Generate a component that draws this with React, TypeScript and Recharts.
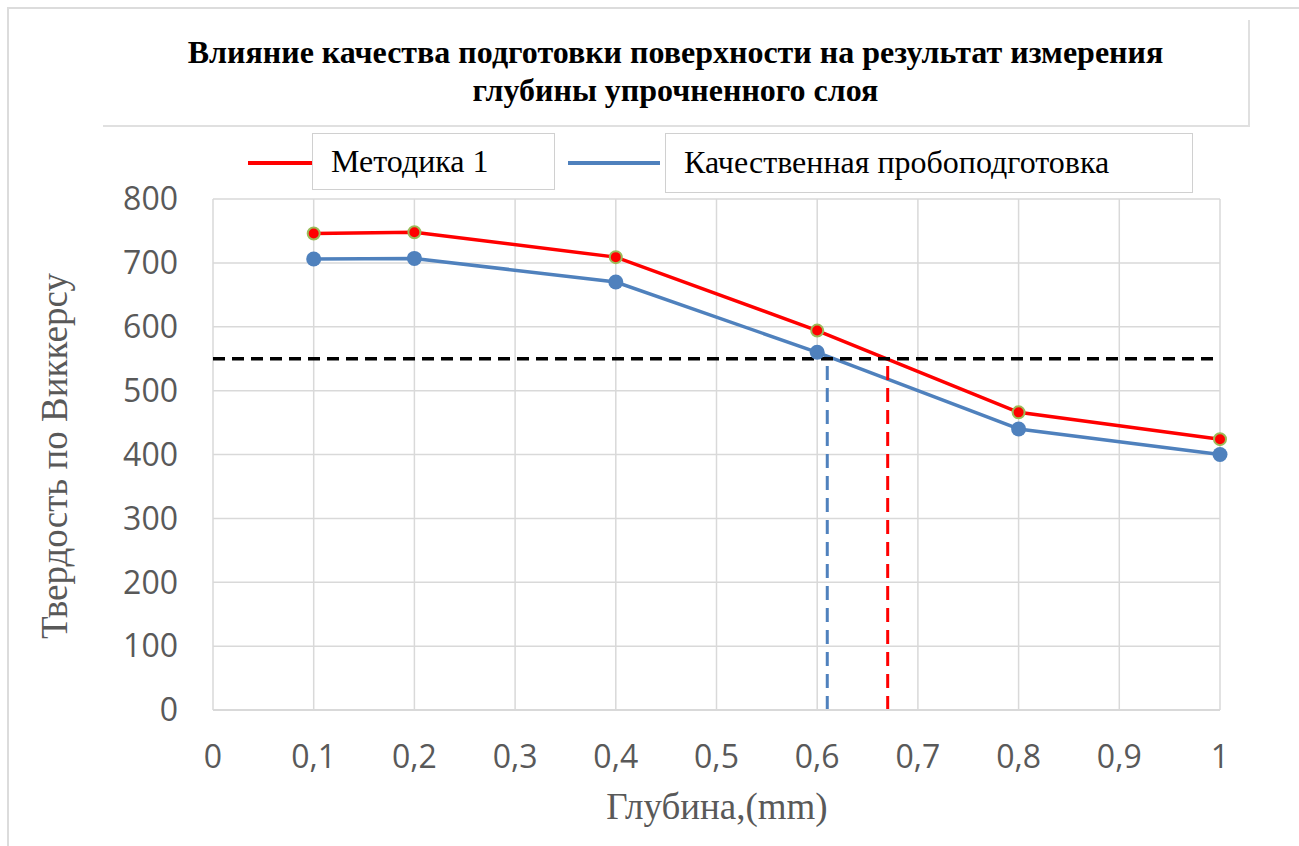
import React from 'react';
import {
  LineChart,
  Line,
  XAxis,
  YAxis,
  CartesianGrid,
  ReferenceLine,
} from 'recharts';

// Chart data
const depths = [0.1, 0.2, 0.4, 0.6, 0.8, 1];
const method1 = [746, 748, 709, 594, 466, 424];
const qualityPrep = [706, 707, 670, 560, 440, 400];

const xTicks = [0, 0.1, 0.2, 0.3, 0.4, 0.5, 0.6, 0.7, 0.8, 0.9, 1];
const yTicks = [0, 100, 200, 300, 400, 500, 600, 700, 800];

// threshold hardness and the depths where each curve crosses it
const threshold = 550;
const crossMethod1 = 0.67;
const crossQuality = 0.61;

const seriesNames = ['Методика 1', 'Качественная пробоподготовка'];
const title = [
  'Влияние качества подготовки поверхности на результат измерения',
  'глубины упрочненного слоя',
];
const xTitle = 'Глубина,(mm)';
const yTitle = 'Твердость по Виккерсу';

const RED = '#ff0000';
const BLUE = '#4f81bd';
const GRID = '#d9d9d9';
const TEXT = '#595959';
const SERIF = '"Liberation Serif", "Times New Roman", serif';
const SANS = '"Open Sans", sans-serif';

const data = depths.map((d, i) => ({
  depth: d,
  m1: method1[i],
  q: qualityPrep[i],
}));

const fmt = (v: number) => String(v).replace('.', ',');

export default function App() {
  return (
    <div
      style={{
        position: 'absolute',
        left: 0,
        top: 0,
        width: 1299,
        height: 846,
        background: '#fff',
        overflow: 'hidden',
      }}
    >
      {/* outer chart border */}
      <div
        style={{
          position: 'absolute',
          left: 7,
          top: 7,
          width: 1400,
          height: 1000,
          borderLeft: '2px solid #dcdcdc',
          borderTop: '2px solid #dcdcdc',
        }}
      />

      {/* title box */}
      <div
        style={{
          position: 'absolute',
          left: 103,
          top: 20,
          width: 1147,
          height: 107,
          borderRight: '2px solid #e0e0e0',
          borderBottom: '2px solid #e0e0e0',
          textAlign: 'center',
          fontFamily: SERIF,
          fontWeight: 'bold',
          fontSize: 32,
          lineHeight: '38px',
          paddingTop: 13,
          boxSizing: 'border-box',
          color: '#000',
          whiteSpace: 'nowrap',
        }}
      >
        {title.map((t) => (
          <div key={t}>{t}</div>
        ))}
      </div>

      {/* legend */}
      <div style={{ position: 'absolute', left: 248, top: 161, width: 64, height: 4, background: RED }} />
      <div
        style={{
          position: 'absolute',
          left: 312,
          top: 133,
          width: 243,
          height: 57,
          border: '1.5px solid #d0d0d0',
          boxSizing: 'border-box',
          fontFamily: SERIF,
          fontSize: 32,
          lineHeight: '54px',
          paddingLeft: 18,
          color: '#000',
          whiteSpace: 'nowrap',
        }}
      >
        {seriesNames[0]}
      </div>
      <div style={{ position: 'absolute', left: 568, top: 161, width: 92, height: 4, background: BLUE }} />
      <div
        style={{
          position: 'absolute',
          left: 665,
          top: 133,
          width: 528,
          height: 60,
          border: '1.5px solid #d0d0d0',
          boxSizing: 'border-box',
          fontFamily: SERIF,
          fontSize: 32,
          lineHeight: '56px',
          paddingLeft: 18,
          color: '#000',
          whiteSpace: 'nowrap',
        }}
      >
        {seriesNames[1]}
      </div>

      {/* axis titles */}
      <div
        style={{
          position: 'absolute',
          left: 54,
          top: 456,
          transform: 'translate(-50%, -50%) rotate(-90deg)',
          whiteSpace: 'nowrap',
          fontFamily: SERIF,
          fontSize: 37,
          color: TEXT,
        }}
      >
        {yTitle}
      </div>
      <div
        style={{
          position: 'absolute',
          left: 717,
          top: 806,
          transform: 'translate(-50%, -50%)',
          whiteSpace: 'nowrap',
          fontFamily: SERIF,
          fontSize: 37,
          color: TEXT,
        }}
      >
        {xTitle}
      </div>

      <div style={{ position: 'absolute', left: 0, top: 0 }}>
        <LineChart
          width={1299}
          height={846}
          data={data}
          margin={{ top: 199, right: 79, left: 0, bottom: 0 }}
        >
          <CartesianGrid stroke={GRID} strokeWidth={1.5} />
          <XAxis
            dataKey="depth"
            type="number"
            domain={[0, 1]}
            ticks={xTicks}
            tickFormatter={fmt}
            height={136}
            tickSize={0}
            tickMargin={35}
            axisLine={{ stroke: GRID, strokeWidth: 2 }}
            tickLine={false}
            tick={{ fill: TEXT, fontSize: 32, fontFamily: SANS }}
          />
          <YAxis
            type="number"
            domain={[0, 800]}
            ticks={yTicks}
            width={213}
            tickSize={0}
            tickMargin={35}
            axisLine={false}
            tickLine={false}
            tick={{ fill: TEXT, fontSize: 32, fontFamily: SANS }}
          />
          <Line
            dataKey="q"
            name={seriesNames[1]}
            stroke={BLUE}
            strokeWidth={3.5}
            dot={{ r: 7.5, fill: BLUE, stroke: BLUE, strokeWidth: 0 }}
            isAnimationActive={false}
          />
          <Line
            dataKey="m1"
            name={seriesNames[0]}
            stroke={RED}
            strokeWidth={3.5}
            dot={{ r: 6, fill: RED, stroke: '#9bbb59', strokeWidth: 2 }}
            isAnimationActive={false}
          />
          <ReferenceLine
            segment={[
              { x: 0, y: threshold },
              { x: 1, y: threshold },
            ]}
            stroke="#000"
            strokeWidth={3.5}
            strokeDasharray="12 7"
          />
          <ReferenceLine
            segment={[
              { x: crossQuality, y: 0 },
              { x: crossQuality, y: threshold },
            ]}
            stroke={BLUE}
            strokeWidth={3}
            strokeDasharray="14 8"
          />
          <ReferenceLine
            segment={[
              { x: crossMethod1, y: 0 },
              { x: crossMethod1, y: threshold },
            ]}
            stroke={RED}
            strokeWidth={3}
            strokeDasharray="14 8"
          />
        </LineChart>
      </div>
    </div>
  );
}
